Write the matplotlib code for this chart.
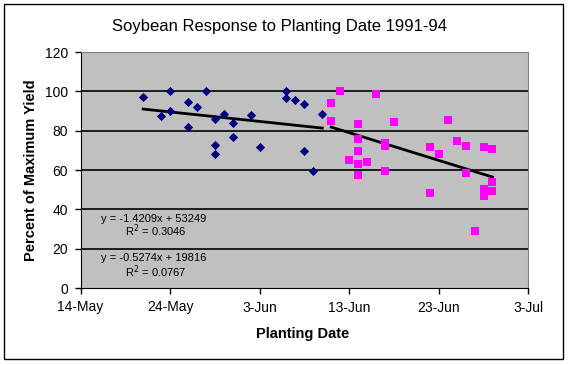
import numpy as np
import pandas as pd
import matplotlib
matplotlib.use("Agg")
import matplotlib.pyplot as plt
import matplotlib.dates as mdates
from matplotlib.patches import Rectangle

plt.rcParams['font.family'] = ['Liberation Sans', 'DejaVu Sans']

# early plantings (blue diamonds)
early_dates = ['2002-05-21', '2002-05-23', '2002-05-24', '2002-05-24', '2002-05-26',
               '2002-05-26', '2002-05-27', '2002-05-28', '2002-05-29', '2002-05-29',
               '2002-05-29', '2002-05-30', '2002-05-31', '2002-05-31', '2002-06-02',
               '2002-06-03', '2002-06-06', '2002-06-06', '2002-06-07', '2002-06-08',
               '2002-06-08', '2002-06-09', '2002-06-10']
early_yield = [97.0, 87.3, 100.0, 89.8, 94.4,
               81.7, 91.9, 100.0, 86.1, 72.6,
               68.0, 88.5, 83.7, 76.6, 87.8,
               71.5, 100.0, 96.5, 95.6, 93.6,
               69.5, 59.3, 88.5]

# late plantings (pink squares)
late_dates = ['2002-06-11', '2002-06-11', '2002-06-12', '2002-06-13', '2002-06-14',
              '2002-06-14', '2002-06-14', '2002-06-14', '2002-06-14', '2002-06-15',
              '2002-06-16', '2002-06-17', '2002-06-17', '2002-06-17', '2002-06-18',
              '2002-06-22', '2002-06-22', '2002-06-23', '2002-06-24', '2002-06-25',
              '2002-06-26', '2002-06-26', '2002-06-27', '2002-06-28', '2002-06-28',
              '2002-06-28', '2002-06-29', '2002-06-29', '2002-06-29']
late_yield = [94.2, 85.1, 100.0, 65.2, 83.5,
              75.9, 69.8, 63.2, 57.6, 64.2,
              98.8, 73.9, 72.2, 59.6, 84.6,
              71.8, 48.5, 68.3, 85.6, 74.9,
              72.4, 58.6, 29.1, 71.8, 50.5,
              46.9, 70.8, 54.0, 49.1]

eq_late = ["y = -1.4209x + 53249", "R$^2$ = 0.3046"]
eq_early = ["y = -0.5274x + 19816", "R$^2$ = 0.0767"]

xe = mdates.date2num(pd.to_datetime(early_dates))
xl = mdates.date2num(pd.to_datetime(late_dates))

fig = plt.figure(figsize=(5.69, 3.65), dpi=100)
ax = fig.add_axes([80.5 / 569, 1 - 288 / 365, (528.3 - 80.5) / 569, (288 - 52) / 365])
ax.set_facecolor('#C0C0C0')

# grid lines
for yv in [20, 40, 60, 80, 100]:
    ax.axhline(yv, color='black', lw=1.2, zorder=1)

ax.scatter(xe, early_yield, marker='D', s=22, color='#000080', zorder=3, linewidths=0)
ax.scatter(xl, late_yield, marker='s', s=34, color='#FF00FF', zorder=3, linewidths=0)

# linear trend lines
for xs, ys in [(xe, early_yield), (xl, late_yield)]:
    m, b = np.polyfit(xs, ys, 1)
    xx = np.array([xs.min(), xs.max()])
    ax.plot(xx, m * xx + b, color='black', lw=2, zorder=2)

start = mdates.date2num(pd.Timestamp('2002-05-14'))
end = mdates.date2num(pd.Timestamp('2002-07-03'))
ax.set_xlim(start, end)
ax.set_ylim(0, 120)
ax.set_xticks(np.arange(start, end + 1, 10))
ax.xaxis.set_major_formatter(plt.FuncFormatter(
    lambda v, p: f"{mdates.num2date(v).day}-{mdates.num2date(v).strftime('%b')}"))
ax.set_yticks(np.arange(0, 121, 20))
ax.tick_params(direction='out', length=4, width=1, labelsize=10, colors='black', pad=5)

for side in ['top', 'right']:
    ax.spines[side].set_color('#808080')
for side in ['left', 'bottom']:
    ax.spines[side].set_color('black')

ax.text(0.045, 0.28, eq_late[0], transform=ax.transAxes, fontsize=8)
ax.text(0.1, 0.22, eq_late[1], transform=ax.transAxes, fontsize=8)
ax.text(0.045, 0.115, eq_early[0], transform=ax.transAxes, fontsize=8)
ax.text(0.1, 0.05, eq_early[1], transform=ax.transAxes, fontsize=8)

fig.text(279 / 569, 1 - 27 / 365, 'Soybean Response to Planting Date 1991-94',
         ha='center', va='center', fontsize=12)
fig.text(31 / 569, 1 - 170 / 365, 'Percent of Maximum Yield', rotation=90,
         ha='center', va='center', fontsize=10.5, fontweight='bold')
fig.text(303 / 569, 1 - 334 / 365, 'Planting Date', ha='center', va='center',
         fontsize=10.5, fontweight='bold')

fig.patches.append(Rectangle((4 / 569, 1 - 359 / 365), 559 / 569, 355 / 365,
                             transform=fig.transFigure, fill=False,
                             edgecolor='black', lw=1))

fig.savefig('out.png', dpi=100)
